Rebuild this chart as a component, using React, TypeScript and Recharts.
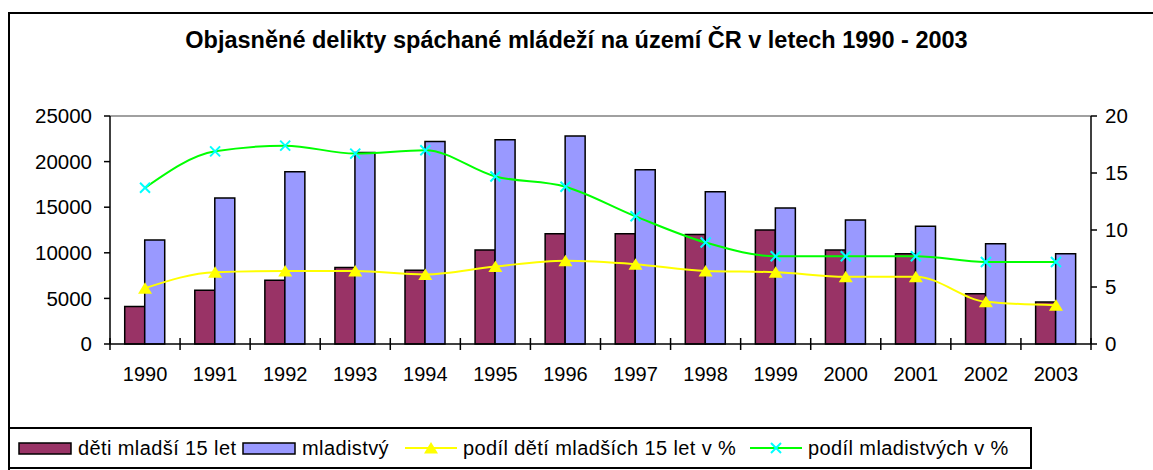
import { Bar, ComposedChart, Line, ReferenceLine, XAxis, YAxis } from "recharts";

const FONT = "Arial, 'Liberation Sans', sans-serif";

const TITLE = "Objasněné delikty spáchané mládeží na území ČR v letech 1990 - 2003";

const years = ["1990", "1991", "1992", "1993", "1994", "1995", "1996", "1997", "1998", "1999", "2000", "2001", "2002", "2003"];
// absolute counts (left axis)
const childrenCounts = [4100, 5900, 7000, 8400, 8100, 10300, 12100, 12100, 12000, 12500, 10300, 9900, 5500, 4600];
const juvenileCounts = [11400, 16000, 18900, 21000, 22200, 22400, 22800, 19100, 16700, 14900, 13600, 12900, 11000, 9900];
// shares in % (right axis)
const childrenShare = [4.9, 6.3, 6.4, 6.4, 6.1, 6.8, 7.3, 7.0, 6.4, 6.3, 5.9, 5.9, 3.7, 3.4];
const juvenileShare = [13.7, 16.9, 17.4, 16.7, 17.0, 14.7, 13.8, 11.2, 8.9, 7.7, 7.7, 7.7, 7.2, 7.2];

const leftTicks = [0, 5000, 10000, 15000, 20000, 25000];
const rightTicks = [0, 5, 10, 15, 20];

const SERIES = [
  { key: "children", name: "děti mladší 15 let", kind: "bar", color: "#993366" },
  { key: "juveniles", name: "mladistvý", kind: "bar", color: "#9999FF" },
  { key: "childrenShare", name: "podíl dětí mladších 15 let v %", kind: "triangle", color: "#FFFF00" },
  { key: "juvenileShare", name: "podíl mladistvých v %", kind: "cross", color: "#00FF00" },
];

// legend item left edges inside the box
const legendSlots = [8, 232, 395, 740];

const rows = years.map((year, i) => ({
  year,
  children: childrenCounts[i],
  juveniles: juvenileCounts[i],
  childrenShare: childrenShare[i],
  juvenileShare: juvenileShare[i],
}));

const TICK_SIZE = 8;
const TICK_MARGIN = 15;

function YearTick(props: any) {
  const { x, y, payload, index } = props;
  const half = payload?.offset ?? 0;
  const axisY = y - TICK_SIZE - TICK_MARGIN;
  return (
    <g>
      <line x1={x - half} x2={x - half} y1={axisY - 6} y2={axisY + 6} stroke="#000" strokeWidth={1.5} />
      {index === years.length - 1 && (
        <line x1={x + half} x2={x + half} y1={axisY - 6} y2={axisY + 6} stroke="#000" strokeWidth={1.5} />
      )}
      <text x={x} y={y} dy="0.71em" textAnchor="middle" fontSize={20} fontFamily={FONT} fill="#000">
        {payload.value}
      </text>
    </g>
  );
}

function TriangleDot(props: any) {
  const { cx, cy } = props;
  if (cx == null || cy == null) return null;
  return <path d={`M${cx},${cy - 6} L${cx + 7},${cy + 5.5} L${cx - 7},${cy + 5.5} Z`} fill="#FFFF00" />;
}

function CrossDot(props: any) {
  const { cx, cy } = props;
  if (cx == null || cy == null) return null;
  return (
    <path
      d={`M${cx - 5},${cy - 5} L${cx + 5},${cy + 5} M${cx - 5},${cy + 5} L${cx + 5},${cy - 5}`}
      stroke="#00FFFF"
      strokeWidth={2}
      fill="none"
    />
  );
}

function LegendSymbol({ kind, color }: { kind: string; color: string }) {
  if (kind === "bar") {
    return (
      <svg width={54} height={13} style={{ display: "block" }}>
        <rect x={1} y={1} width={52} height={11} fill={color} stroke="#000" strokeWidth={1.5} />
      </svg>
    );
  }
  return (
    <svg width={52} height={16} style={{ display: "block" }}>
      <line x1={0} x2={52} y1={8} y2={8} stroke={color} strokeWidth={2} />
      {kind === "triangle" ? <TriangleDot cx={26} cy={8} /> : <CrossDot cx={26} cy={8} />}
    </svg>
  );
}

export default function App() {
  return (
    <div style={{ position: "absolute", left: 0, top: 0, width: 1153, height: 470, overflow: "hidden", background: "#fff" }}>
      <div
        style={{
          position: "absolute",
          left: 8,
          top: 12,
          width: 1200,
          height: 520,
          border: "2px solid #000",
          boxSizing: "border-box",
        }}
      />
      <div
        style={{
          position: "absolute",
          left: 0,
          top: 27,
          width: 1153,
          textAlign: "center",
          fontFamily: FONT,
          fontWeight: "bold",
          fontSize: 23.5,
          color: "#000",
          whiteSpace: "nowrap",
        }}
      >
        {TITLE}
      </div>
      <div style={{ position: "absolute", left: 0, top: 0 }}>
        <ComposedChart
          width={1153}
          height={470}
          data={rows}
          margin={{ top: 116, right: 0, bottom: 96, left: 0 }}
          barCategoryGap="21%"
          barGap={0}
        >
          <XAxis
            dataKey="year"
            height={30}
            stroke="#000"
            strokeWidth={1.5}
            tickLine={false}
            tickSize={TICK_SIZE}
            tickMargin={TICK_MARGIN}
            tick={<YearTick />}
            interval={0}
          />
          <YAxis
            yAxisId="left"
            width={110}
            domain={[0, 25000]}
            ticks={leftTicks}
            stroke="#000"
            strokeWidth={1.5}
            tickSize={6}
            tickMargin={12}
            tick={{ fill: "#000", fontSize: 20.5, fontFamily: FONT }}
          />
          <YAxis
            yAxisId="right"
            orientation="right"
            width={62}
            domain={[0, 20]}
            ticks={rightTicks}
            stroke="#000"
            strokeWidth={1.5}
            tickSize={6}
            tickMargin={8}
            tick={{ fill: "#000", fontSize: 20.5, fontFamily: FONT }}
          />
          <ReferenceLine yAxisId="left" y={25000} stroke="#808080" strokeWidth={1.5} />
          <Bar yAxisId="left" dataKey="children" name={SERIES[0].name} fill={SERIES[0].color} stroke="#000" strokeWidth={1.5} isAnimationActive={false} />
          <Bar yAxisId="left" dataKey="juveniles" name={SERIES[1].name} fill={SERIES[1].color} stroke="#000" strokeWidth={1.5} isAnimationActive={false} />
          <Line
            yAxisId="right"
            type="monotone"
            dataKey="childrenShare"
            name={SERIES[2].name}
            stroke={SERIES[2].color}
            strokeWidth={2}
            dot={<TriangleDot />}
            activeDot={false}
            isAnimationActive={false}
          />
          <Line
            yAxisId="right"
            type="monotone"
            dataKey="juvenileShare"
            name={SERIES[3].name}
            stroke={SERIES[3].color}
            strokeWidth={2}
            dot={<CrossDot />}
            activeDot={false}
            isAnimationActive={false}
          />
        </ComposedChart>
      </div>
      <div
        style={{
          position: "absolute",
          left: 8,
          top: 427,
          width: 1024,
          height: 42,
          border: "2px solid #000",
          boxSizing: "border-box",
          background: "#fff",
          fontFamily: FONT,
          fontSize: 20,
          letterSpacing: 0.4,
          color: "#000",
          whiteSpace: "nowrap",
        }}
      >
        {SERIES.map((s, i) => (
          <div
            key={s.key}
            style={{ position: "absolute", left: legendSlots[i], top: 0, height: 38, display: "flex", alignItems: "center" }}
          >
            <LegendSymbol kind={s.kind} color={s.color} />
            <span style={{ marginLeft: 6 }}>{s.name}</span>
          </div>
        ))}
      </div>
    </div>
  );
}
